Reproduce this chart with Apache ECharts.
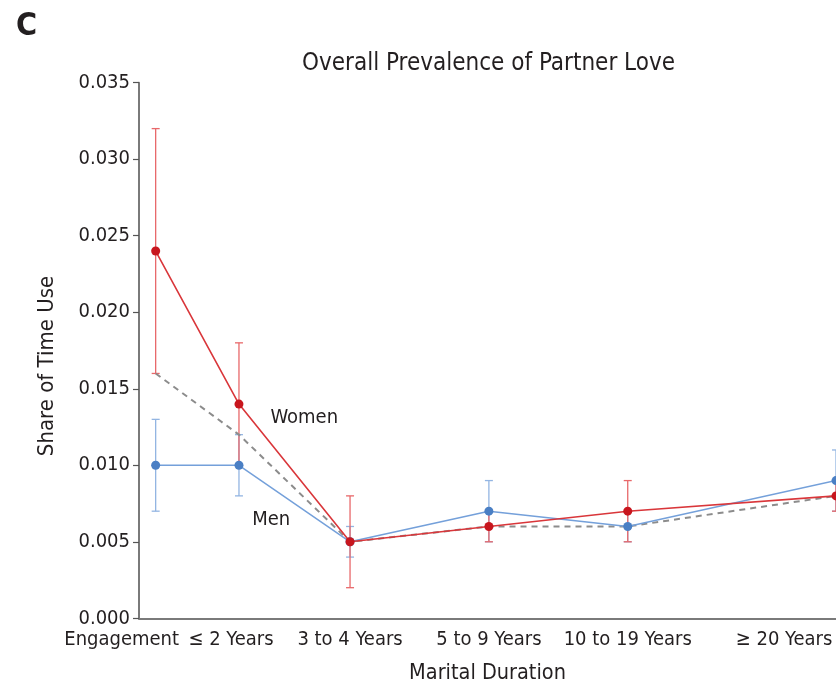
<!DOCTYPE html>
<html><head><meta charset="utf-8">
<script src="https://cdn.jsdelivr.net/npm/echarts@6/dist/echarts.min.js"></script>
<style>html,body{margin:0;padding:0;background:#fff}#c{width:836px;height:687px}</style>
</head><body><div id="c"></div>
<script>
// ---- data ----
const categories = ['Engagement', '≤ 2 Years', '3 to 4 Years', '5 to 9 Years', '10 to 19 Years', '≥ 20 Years'];
const xPos = [0, 3, 7, 12, 17, 24.5];           // relative spacing of categories on the duration axis
const women = [0.024, 0.014, 0.005, 0.006, 0.007, 0.008];
const womenLo = [0.016, 0.010, 0.002, 0.005, 0.005, 0.007];
const womenHi = [0.032, 0.018, 0.008, 0.007, 0.009, 0.009];
const men = [0.010, 0.010, 0.005, 0.007, 0.006, 0.009];
const menLo = [0.007, 0.008, 0.004, 0.005, 0.005, 0.007];
const menHi = [0.013, 0.012, 0.006, 0.009, 0.007, 0.011];
const overall = [0.016, 0.012, 0.005, 0.006, 0.006, 0.008];
const yTicks = [0, 0.005, 0.010, 0.015, 0.020, 0.025, 0.030, 0.035];
const annotations = [
  { text: 'Women', x: 5.35, y: 0.01309 },
  { text: 'Men', x: 4.16, y: 0.00642 }
];

const FONT = '"Liberation Sans Narrow", "DejaVu Sans Condensed", "Roboto", sans-serif';
const TXT = '#231f20';
const RED_DOT = '#c8161e', RED_LINE = '#d9363a', RED_ERR = '#e8686a';
const BLUE_DOT = '#4a7fc4', BLUE_LINE = '#74a0da', BLUE_ERR = '#93b5e2';

const pts = (vals) => vals.map((v, i) => [xPos[i], v]);
const errData = (lo, hi) => lo.map((l, i) => [xPos[i], l, hi[i]]);

function errRender(color) {
  return function (params, api) {
    const x = api.value(0), lo = api.value(1), hi = api.value(2);
    const a = api.coord([x, hi]), b = api.coord([x, lo]);
    const hw = 4;
    const st = { stroke: color, lineWidth: 1.3, fill: null };
    return { type: 'group', children: [
      { type: 'line', shape: { x1: a[0], y1: a[1], x2: b[0], y2: b[1] }, style: st },
      { type: 'line', shape: { x1: a[0] - hw, y1: a[1], x2: a[0] + hw, y2: a[1] }, style: st },
      { type: 'line', shape: { x1: b[0] - hw, y1: b[1], x2: b[0] + hw, y2: b[1] }, style: st }
    ]};
  };
}

const labelShift = { 0: 68, 1: 16, 5: 104 };
const rich = {};
categories.forEach((c, i) => {
  rich['l' + i] = { fontFamily: FONT, fontSize: 20, color: TXT, padding: [0, labelShift[i] || 0, 0, 0] };
});

const chart = echarts.init(document.getElementById('c'), null, { renderer: 'canvas' });
chart.setOption({
  animation: false,
  backgroundColor: '#fff',
  title: [
    { text: 'C', left: 11, top: 6, textStyle: { fontFamily: FONT, fontSize: 32, fontWeight: 'bold', color: TXT } },
    { text: 'Overall Prevalence of Partner Love', left: 297, top: 47, textStyle: { fontFamily: FONT, fontSize: 24, fontWeight: 'normal', color: TXT } }
  ],
  grid: { left: 139, right: 0, top: 82.7, bottom: 68.7, containLabel: false, outerBoundsMode: 'none' },
  xAxis: {
    type: 'value', min: -0.6, max: 24.5,
    name: 'Marital Duration', nameLocation: 'middle', nameGap: 44,
    nameTextStyle: { fontFamily: FONT, fontSize: 21.5, color: TXT },
    axisLine: { show: true, onZero: false, lineStyle: { color: '#7a7a7a', width: 2 } },
    axisTick: { show: false },
    splitLine: { show: false },
    axisLabel: {
      customValues: xPos, margin: 11, showMinLabel: true, showMaxLabel: true, hideOverlap: false,
      formatter: (v) => { const i = xPos.indexOf(v); return i < 0 ? '' : '{l' + i + '|' + categories[i] + '}'; },
      rich: rich
    }
  },
  yAxis: {
    type: 'value', min: 0, max: 0.035, interval: 0.005,
    name: 'Share of Time Use', nameLocation: 'middle', nameGap: 81, nameRotate: 90,
    nameTextStyle: { fontFamily: FONT, fontSize: 22, color: TXT, padding: [0, 31, 0, 0] },
    axisLine: { show: true, onZero: false, lineStyle: { color: '#7a7a7a', width: 2 } },
    axisTick: { show: true, length: 6, lineStyle: { color: '#555', width: 1.2 } },
    splitLine: { show: false },
    axisLabel: { fontFamily: FONT, fontSize: 20, color: TXT, margin: 9, hideOverlap: false,
      formatter: (v) => { const t = yTicks.find(t => Math.abs(t - v) < 1e-9); return (t === undefined ? v : t).toFixed(3); } }
  },
  series: [
    { type: 'custom', name: 'men err', renderItem: errRender(BLUE_ERR), data: errData(menLo, menHi), encode: { x: 0, y: [1, 2] }, z: 1, clip: false },
    { type: 'custom', name: 'women err', renderItem: errRender(RED_ERR), data: errData(womenLo, womenHi), encode: { x: 0, y: [1, 2] }, z: 2, clip: false },
    { type: 'line', name: 'Overall', data: pts(overall), showSymbol: false, symbol: 'none',
      lineStyle: { color: '#8c8c8c', width: 2, type: [6, 5] }, z: 3 },
    { type: 'line', name: 'Men', data: pts(men), symbol: 'circle', symbolSize: 9,
      itemStyle: { color: BLUE_DOT }, lineStyle: { color: BLUE_LINE, width: 1.5 }, z: 4 },
    { type: 'line', name: 'Women', data: pts(women), symbol: 'circle', symbolSize: 9,
      itemStyle: { color: RED_DOT }, lineStyle: { color: RED_LINE, width: 1.6 }, z: 5 }
  ]
});

const g = annotations.map(a => {
  const p = chart.convertToPixel({ gridIndex: 0 }, [a.x, a.y]);
  return { type: 'text', x: p[0], y: p[1], z: 10,
    style: { text: a.text, fontFamily: FONT, fontSize: 20, fill: TXT, align: 'center', verticalAlign: 'middle' } };
});
chart.setOption({ graphic: g });
</script>
</body></html>
